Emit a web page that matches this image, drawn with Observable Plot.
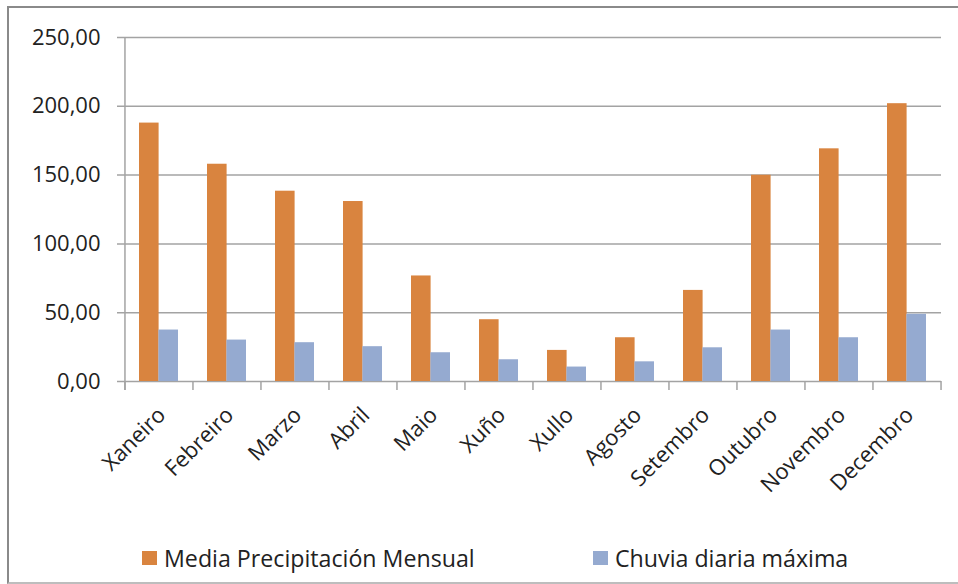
<!DOCTYPE html>
<html><head><meta charset="utf-8">
<script src="https://cdn.jsdelivr.net/npm/d3@7"></script>
<script src="https://cdn.jsdelivr.net/npm/@observablehq/plot@0.6"></script>
<style>
body{margin:0;background:#fff;font-family:"Open Sans",sans-serif;}
#wrap{position:relative;width:958px;height:584px;overflow:hidden;background:#fff}
#frame{position:absolute;left:7px;top:6px;width:960px;height:578px;border-top:2px solid #8a8a8a;border-left:2px solid #8a8a8a;border-bottom:2px solid #bdbdbd;border-right:none;box-sizing:border-box;pointer-events:none}
#chart{position:absolute;left:0;top:0}
.leg{position:absolute;top:543px;height:30px;font-size:23.2px;color:#222;display:flex;align-items:center;white-space:nowrap}
.sw{width:15px;height:14px;margin-right:7px}
</style></head>
<body>
<div id="wrap">
  <div id="chart"></div>
  <div id="legend"></div>
  <div id="frame"></div>
</div>
<script>
const months = ["Xaneiro","Febreiro","Marzo","Abril","Maio","Xuño","Xullo","Agosto","Setembro","Outubro","Novembro","Decembro"];
const media = [187.8,157.9,138.3,130.8,76.7,44.9,22.6,31.8,66.2,149.9,169.1,201.9];
const chuvia = [37.4,30.1,28.2,25.3,20.9,15.8,10.5,14.3,24.5,37.4,31.8,48.8];
const seriesNames = ["Media Precipitación Mensual","Chuvia diaria máxima"];
const yTicks = [0,50,100,150,200,250];
const colors = ["#D9843F","#95AAD0"];

const W=958,H=520,mL=124,mR=17,mT=37,mB=139;
const step=(W-mL-mR)/months.length;
const pad=0.43;
const bw=step*(1-pad);
const rows = months.map((m,i)=>({month:m, media:media[i], chuvia:chuvia[i]}));
const grid="#a3a3a3";

const chart = Plot.plot({
  width:W,height:H,marginLeft:mL,marginRight:mR,marginTop:mT,marginBottom:mB,
  style:{fontFamily:"'Open Sans',sans-serif",fontSize:"22px",color:"#222",background:"transparent",overflow:"visible"},
  x:{domain:months,paddingInner:pad,paddingOuter:pad/2,label:null},
  y:{domain:[0,250],label:null},
  marks:[
    Plot.ruleY(yTicks,{stroke:grid,strokeWidth:1.5,insetLeft:-7}),
    Plot.barY(rows,{x:"month",y:"media",fill:colors[0],insetRight:bw/2}),
    Plot.barY(rows,{x:"month",y:"chuvia",fill:colors[1],insetLeft:bw/2}),
    Plot.ruleX(months,{x:d=>d,dx:-step/2,y1:0,y2:0,insetBottom:-9,stroke:grid,strokeWidth:1.5}),
    Plot.ruleX([months[months.length-1]],{x:d=>d,dx:step/2,y1:0,y2:0,insetBottom:-9,stroke:grid,strokeWidth:1.5}),
    Plot.ruleX([months[0]],{x:d=>d,dx:-step/2,y1:250,y2:0,insetBottom:-9,stroke:grid,strokeWidth:1.5}),
    Plot.axisY({ticks:yTicks,tickSize:0,tickPadding:24,tickFormat:d=>d.toFixed(2).replace(".",","),fill:"#222",fontSize:22}),
    Plot.axisX({tickSize:0,tickPadding:30,tickRotate:-45,fill:"#222",fontSize:22,dx:3})
  ]
});
document.getElementById("chart").appendChild(chart);

const leg=document.getElementById("legend");
const legX=[142,593];
seriesNames.forEach((n,i)=>{
  const d=document.createElement("div");
  d.className="leg";
  d.style.left=legX[i]+"px";
  d.innerHTML=`<span class="sw" style="background:${colors[i]}"></span><span>${n}</span>`;
  leg.appendChild(d);
});
</script>
</body></html>
